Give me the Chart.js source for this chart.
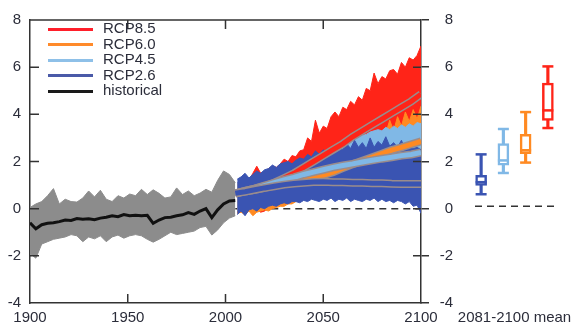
<!DOCTYPE html>
<html>
<head>
<meta charset="utf-8">
<script src="https://cdn.jsdelivr.net/npm/chart.js@4/dist/chart.umd.min.js"></script>
<style>
  body { margin: 0; background: #fff; }
  #wrap { position: relative; width: 583px; height: 333px; }
  #main { position: absolute; left: 0; top: 0; }
  #boxes { position: absolute; left: 421px; top: 0; }
  #legend { position: absolute; left: 48px; top: 20px; font: 15px Arial, "Liberation Sans", sans-serif; color: #2b2d3a; }
  #legend div { height: 15.6px; line-height: 15.6px; white-space: nowrap; }
  #legend .sw { display: inline-block; width: 45px; height: 3px; margin-right: 10px; vertical-align: middle; }
</style>
</head>
<body>
<div id="wrap">
  <canvas id="main" width="583" height="333"></canvas>
  <canvas id="boxes" width="162" height="333"></canvas>
  <div id="legend"></div>
</div>
<script>
// ---- data ----
const histYears = [1900,1903,1906,1909,1912,1915,1918,1921,1924,1927,1930,1933,1936,1939,1942,1945,1948,1951,1954,1957,1960,1963,1966,1969,1972,1975,1978,1981,1984,1987,1990,1993,1996,1999,2002,2005];
const histMean = [-0.6,-0.85,-0.68,-0.62,-0.6,-0.55,-0.48,-0.5,-0.42,-0.45,-0.43,-0.47,-0.4,-0.36,-0.3,-0.34,-0.25,-0.3,-0.28,-0.3,-0.28,-0.62,-0.48,-0.38,-0.36,-0.3,-0.26,-0.17,-0.24,-0.1,0.0,-0.38,-0.05,0.2,0.33,0.35];
const histHigh = [0.05,0.2,0.3,0.55,0.85,0.2,0.4,0.3,0.28,0.45,0.75,0.5,0.78,0.4,0.3,0.55,0.45,0.62,0.55,0.82,0.6,0.8,0.65,0.45,0.5,0.88,0.6,0.75,0.55,0.66,0.82,0.7,1.2,1.6,1.45,1.1];
const histLow = [-1.9,-2.1,-1.5,-1.4,-1.3,-1.25,-1.2,-1.1,-1.15,-1.4,-1.2,-1.28,-1.15,-1.4,-1.2,-1.12,-1.25,-1.15,-1.1,-1.15,-1.3,-1.42,-1.3,-1.15,-1.0,-1.1,-1.05,-1.0,-0.95,-0.8,-0.75,-1.12,-0.9,-0.6,-0.4,-0.3];

const projYears = [2006,2008,2010,2012,2014,2016,2018,2020,2022,2024,2026,2028,2030,2032,2034,2036,2038,2040,2042,2044,2046,2048,2050,2052,2054,2056,2058,2060,2062,2064,2066,2068,2070,2072,2074,2076,2078,2080,2082,2084,2086,2088,2090,2092,2094,2096,2098,2100];
const rcp85High = [1.1,1.2,1.35,1.2,1.5,1.8,1.5,1.55,1.7,1.8,1.75,1.9,2.1,2.0,2.25,2.2,2.45,2.5,3.0,2.85,3.75,3.2,3.5,3.4,3.9,4.1,3.9,4.3,4.2,4.55,4.4,4.75,4.6,5.1,5.0,5.75,5.3,5.6,5.5,5.85,5.9,5.7,6.2,6.0,6.4,6.3,6.5,6.9];
const rcp85Low = [-0.15,-0.1,-0.2,-0.05,-0.1,0.0,-0.15,-0.1,0.05,0.1,0.1,0.2,0.25,0.3,0.4,0.45,0.5,0.6,0.7,0.75,0.85,0.9,1.0,1.1,1.15,1.25,1.35,1.4,1.5,1.6,1.7,1.75,1.85,1.95,2.05,2.1,2.2,2.3,2.4,2.5,2.55,2.65,2.75,2.8,2.9,3.0,3.05,3.15];
const rcp60High = [1.0,1.1,1.1,1.2,1.2,1.3,1.3,1.4,1.45,1.5,1.5,1.6,1.6,1.7,1.7,1.8,1.8,1.9,1.9,2.0,2.0,2.05,2.1,2.15,2.2,2.25,2.3,2.35,2.4,2.5,2.55,2.6,2.7,2.8,2.85,2.9,3.0,3.1,3.2,3.75,3.3,3.9,3.5,4.1,3.7,4.2,3.8,4.35];
const rcp60Low = [-0.2,-0.15,-0.25,-0.1,-0.3,-0.15,-0.1,-0.05,-0.1,0.0,0.05,0.1,0.1,0.2,0.2,0.3,0.35,0.4,0.45,0.5,0.55,0.6,0.65,0.7,0.75,0.8,0.85,0.9,0.95,1.0,1.05,1.1,1.15,1.2,1.25,1.3,1.35,1.4,1.45,1.5,1.55,1.6,1.6,1.65,1.7,1.75,1.8,1.85];
const rcp45High = [1.1,1.2,1.25,1.3,1.35,1.4,1.45,1.5,1.55,1.6,1.65,1.7,1.75,1.8,1.85,1.9,1.95,2.0,2.05,2.1,2.15,2.2,2.25,2.35,2.45,2.55,2.6,2.7,2.8,2.85,2.95,3.0,3.1,3.15,3.25,3.3,3.35,3.3,3.45,3.35,3.5,3.4,3.55,3.45,3.6,3.5,3.65,3.6];
const rcp45Low = [-0.1,-0.05,-0.1,0.0,0.0,0.05,0.1,0.1,0.15,0.2,0.25,0.3,0.35,0.4,0.45,0.5,0.55,0.6,0.6,0.65,0.7,0.75,0.8,0.8,0.85,0.9,0.9,0.95,1.0,1.0,1.05,1.05,1.1,1.1,1.15,1.15,1.2,1.2,1.2,1.25,1.25,1.3,1.3,1.3,1.35,1.35,1.35,1.4];
const rcp26High = [1.25,1.35,1.5,1.3,1.45,1.6,1.5,1.65,1.7,1.85,1.75,1.9,1.95,2.0,1.9,2.05,2.15,2.1,2.3,2.2,2.45,2.3,2.5,2.35,2.6,2.4,2.7,2.5,2.75,2.55,2.9,2.6,2.8,2.55,3.0,2.6,2.85,2.7,3.05,2.65,2.8,2.6,2.9,2.5,2.7,2.55,2.6,2.5];
const rcp26Low = [-0.25,-0.1,-0.3,-0.05,0.0,-0.1,0.05,0.0,0.1,0.15,0.1,0.2,0.25,0.2,0.3,0.3,0.25,0.35,0.3,0.4,0.35,0.3,0.4,0.35,0.45,0.3,0.4,0.35,0.45,0.3,0.4,0.35,0.3,0.4,0.35,0.45,0.3,0.4,0.3,0.35,0.25,0.35,0.3,0.2,0.3,0.1,0.15,-0.2];

const meanYears = [2005,2010,2015,2020,2025,2030,2035,2040,2045,2050,2055,2060,2065,2070,2075,2080,2085,2090,2095,2100];
const rcp85Mean = [0.65,0.75,0.85,0.95,1.1,1.3,1.5,1.75,2.0,2.25,2.5,2.75,3.05,3.3,3.55,3.8,4.05,4.3,4.55,4.85];
const rcp60Mean = [0.65,0.72,0.8,0.88,0.98,1.08,1.22,1.32,1.38,1.42,1.55,1.72,1.88,2.03,2.18,2.33,2.48,2.6,2.73,2.85];
const rcp45Mean = [0.65,0.75,0.85,0.98,1.1,1.22,1.33,1.45,1.55,1.65,1.75,1.83,1.9,1.98,2.05,2.12,2.18,2.25,2.3,2.38];
const rcp26Mean = [0.65,0.72,0.8,0.88,0.95,1.02,1.07,1.1,1.13,1.14,1.12,1.12,1.1,1.1,1.08,1.08,1.06,1.05,1.05,1.05];

const zeroYears = [2005, 2100];
const zeroLine = [0, 0];

// 2081-2100 mean box plots
const boxLabels = ['RCP2.6', 'RCP4.5', 'RCP6.0', 'RCP8.5'];
const boxMin = [0.5, 1.38, 1.81, 3.24];
const boxQ1 = [0.87, 1.7, 2.18, 3.56];
const boxMedian = [1.0, 1.9, 2.32, 3.97];
const boxQ3 = [1.28, 2.6, 2.98, 5.1];
const boxMax = [2.15, 3.2, 3.9, 5.79];
const boxCaption = ['2081-2100 mean'];

const legendLabels = ['RCP8.5', 'RCP6.0', 'RCP4.5', 'RCP2.6', 'historical'];

// ---- styles ----
const RED = '#ff2418', ORANGE = '#ff8a22', LIGHT = '#80b8e6', BLUE = '#3a54b2', GRAY = '#8c8c8c';
const OUTLINE = '#9a8c8c';
const INK = '#2b2d3a';
const legendColors = ['#ff1f2a', '#ff8a2a', '#8ec0e8', '#4a5aa8', '#1a1a1a'];

Chart.defaults.font.family = 'Arial, "Liberation Sans", sans-serif';
Chart.defaults.font.size = 15;
Chart.defaults.color = INK;

function pts(xs, ys) {
    return xs.map((x, i) => ({ x: x, y: ys[i] }));
}

function band(years, high, low, color) {
    return [
        { data: pts(years, high), borderColor: color, backgroundColor: color, borderWidth: 1, fill: '+1' },
        { data: pts(years, low), borderColor: color, borderWidth: 1, fill: false }
    ];
}

function meanLine(years, vals, color) {
    return [
        { data: pts(years, vals), borderColor: OUTLINE, borderWidth: 8, fill: false },
        { data: pts(years, vals), borderColor: color, borderWidth: 5, fill: false }
    ];
}

// bottom to top
const layers = [
    { data: pts(zeroYears, zeroLine), borderColor: '#333', borderWidth: 1.5, borderDash: [7, 5], fill: false },
    ...band(projYears, rcp85High, rcp85Low, RED),
    ...band(projYears, rcp60High, rcp60Low, ORANGE),
    ...band(projYears, rcp45High, rcp45Low, LIGHT),
    ...band(projYears, rcp26High, rcp26Low, BLUE),
    ...band(histYears, histHigh, histLow, GRAY),
    ...meanLine(meanYears, rcp85Mean, RED),
    ...meanLine(meanYears, rcp60Mean, ORANGE),
    ...meanLine(meanYears, rcp45Mean, LIGHT),
    ...meanLine(meanYears, rcp26Mean, BLUE),
    { data: pts(histYears, histMean), borderColor: '#111', borderWidth: 3, fill: false }
];
layers.forEach((d, i) => {
    d.order = layers.length - i;
    d.pointRadius = 0;
    d.tension = 0;
});

// inward tick marks and the top edge of the frame
const frameTicks = {
    id: 'frameTicks',
    afterDraw(chart) {
        const { ctx, chartArea: a, scales } = chart;
        const x = scales.x, y = scales.y;
        ctx.save();
        ctx.strokeStyle = '#333';
        ctx.lineWidth = 1.5;
        ctx.beginPath();
        ctx.moveTo(a.left, a.top);
        ctx.lineTo(a.right, a.top);
        x.ticks.forEach(t => {
            if (t.value <= x.min || t.value >= x.max) return;
            const px = x.getPixelForValue(t.value);
            ctx.moveTo(px, a.bottom); ctx.lineTo(px, a.bottom - 9);
            ctx.moveTo(px, a.top); ctx.lineTo(px, a.top + 9);
        });
        y.ticks.forEach(t => {
            if (t.value <= y.min || t.value >= y.max) return;
            const py = y.getPixelForValue(t.value);
            ctx.moveTo(a.left, py); ctx.lineTo(a.left + 9, py);
            ctx.moveTo(a.right, py); ctx.lineTo(a.right - 8, py);
        });
        ctx.stroke();
        ctx.restore();
    }
};

const border = { display: true, color: '#333', width: 1.5 };

new Chart(document.getElementById('main'), {
    type: 'line',
    data: { datasets: layers },
    options: {
        responsive: false,
        animation: false,
        layout: { padding: { top: 13, right: 130 } },
        plugins: { legend: { display: false }, tooltip: { enabled: false } },
        scales: {
            x: {
                type: 'linear', min: 1900, max: 2100,
                ticks: { stepSize: 50, padding: 6, maxRotation: 0, autoSkip: false, callback: v => String(v) },
                grid: { display: false, drawTicks: false },
                border: border,
                afterFit: s => { s.height = 30; }
            },
            y: {
                position: 'left', min: -4, max: 8,
                ticks: { stepSize: 2, padding: 9 },
                grid: { display: false, drawTicks: false },
                border: border,
                afterFit: s => { s.width = 30; }
            },
            y2: {
                position: 'right', min: -4, max: 8,
                ticks: { stepSize: 2, padding: 11, crossAlign: 'far' },
                grid: { display: true, drawOnChartArea: false, drawTicks: true, tickLength: 8, color: '#333', lineWidth: 1.5 },
                border: border,
                afterFit: s => { s.width = 32; }
            }
        }
    },
    plugins: [frameTicks]
});

// ---- right panel: box plots ----
const boxColors = [BLUE, LIGHT, ORANGE, RED];

const zeroDash = {
    id: 'zeroDash',
    beforeDatasetsDraw(chart) {
        const { ctx, chartArea: a, scales: { y } } = chart;
        const py = y.getPixelForValue(0);
        ctx.save();
        ctx.strokeStyle = '#333';
        ctx.lineWidth = 1.5;
        ctx.setLineDash([7, 5]);
        ctx.beginPath();
        ctx.moveTo(a.left + 5, py);
        ctx.lineTo(a.right - 5, py);
        ctx.stroke();
        ctx.restore();
    }
};

const capStyle = {
    type: 'line', xAxisID: 'x', yAxisID: 'y', showLine: false, pointStyle: 'line', pointRadius: 5.5,
    pointBorderWidth: 2.5, pointBorderColor: boxColors, pointBackgroundColor: boxColors
};

new Chart(document.getElementById('boxes'), {
    type: 'bar',
    data: {
        labels: boxLabels,
        datasets: [
            { ...capStyle, data: boxMedian, order: 0 },
            { ...capStyle, data: boxMax, order: 1 },
            { ...capStyle, data: boxMin, order: 1 },
            {
                data: boxQ1.map((v, i) => [v, boxQ3[i]]), xAxisID: 'x', yAxisID: 'y', order: 2, grouped: false,
                backgroundColor: '#fff', borderColor: boxColors, borderWidth: 2.5, borderSkipped: false, barThickness: 11
            },
            {
                data: boxMin.map((v, i) => [v, boxMax[i]]), xAxisID: 'x', yAxisID: 'y', order: 3, grouped: false,
                backgroundColor: boxColors, borderWidth: 0, barThickness: 2.5
            }
        ]
    },
    options: {
        responsive: false,
        animation: false,
        layout: { padding: { top: 13, left: 49, right: 24 } },
        plugins: { legend: { display: false }, tooltip: { enabled: false } },
        scales: {
            x: { type: 'category', display: false, offset: true },
            caption: {
                type: 'category', position: 'bottom', labels: boxCaption,
                ticks: { padding: 6, maxRotation: 0 },
                grid: { display: false, drawTicks: false },
                border: { display: false },
                afterFit: s => { s.height = 30; s.paddingLeft = 0; s.paddingRight = 0; }
            },
            y: { display: false, min: -4, max: 8 }
        }
    },
    plugins: [zeroDash]
});

// legend
const legend = document.getElementById('legend');
legendLabels.forEach((name, i) => {
    const row = document.createElement('div');
    row.innerHTML = '<span class="sw" style="background:' + legendColors[i] + '"></span>' + name;
    legend.appendChild(row);
});
</script>
</body>
</html>
